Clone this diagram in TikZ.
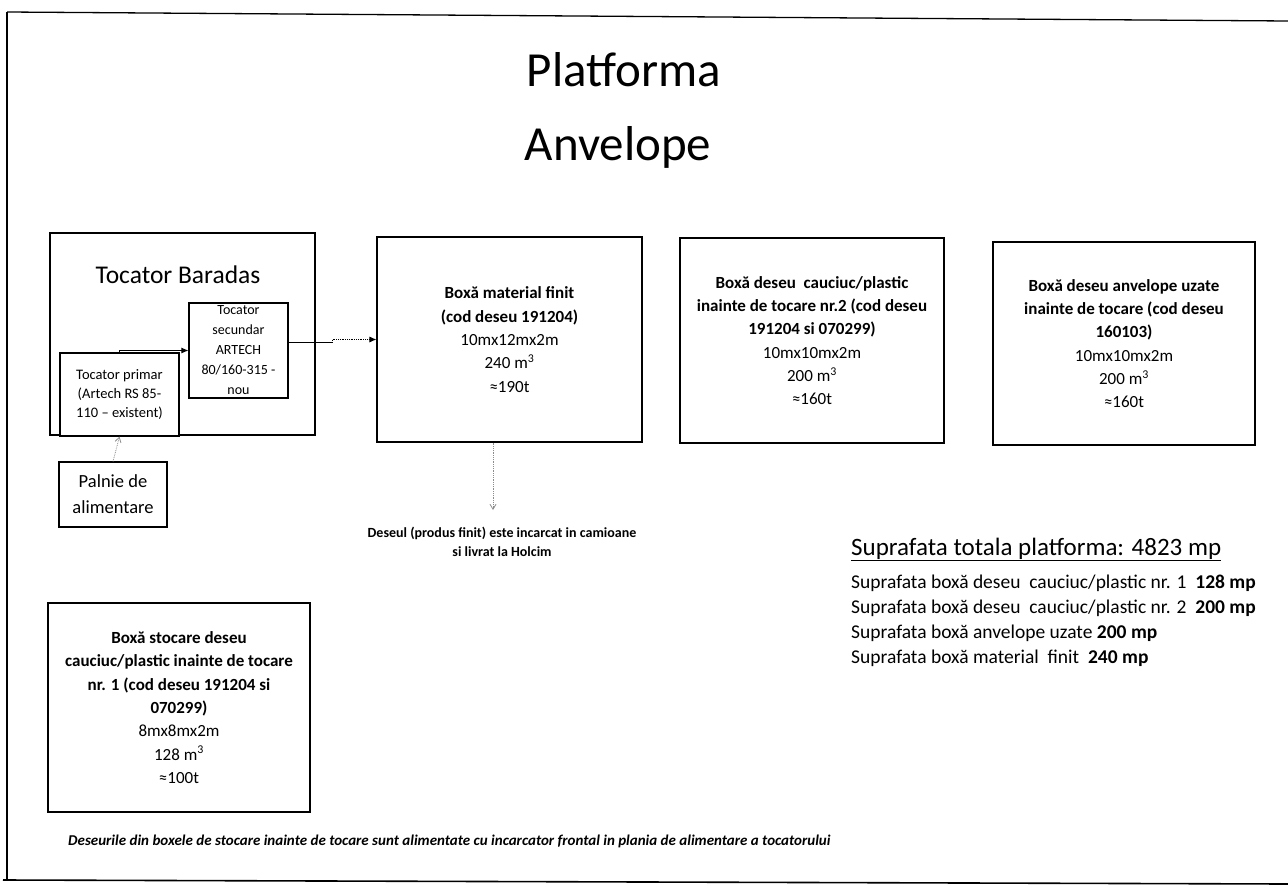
\documentclass[tikz,border=0pt]{standalone}
\usepackage{fontspec}
\setmainfont{Carlito}
\usetikzlibrary{arrows.meta}
\begin{document}
\begin{tikzpicture}[x=1pt,y=-1pt,
  box/.style={draw,line width=1.1pt,inner sep=0pt,align=center},
  boxfont/.style={font=\fontsize{17}{23.3}\selectfont},
  txt/.style={inner sep=0pt},
  suprow/.style={inner sep=0pt,anchor=base west,font=\fontsize{19.5}{22}\selectfont},
  solidarrow/.style={line width=0.9pt,-{Latex[length=7pt,width=6pt]}},
  greyarrow/.style={draw=black!45,line width=0.8pt,densely dotted,-{Straight Barb[length=5pt,width=6pt]}}]
\useasboundingbox (0,0) rectangle (1288,891);
% page frame
\draw[line width=1.3pt] (7,12) -- (1288,21);
\draw[line width=1.3pt] (7,12) -- (7,881);
\draw[line width=1.6pt] (3,880) -- (1288,884);
% title
\node[txt,anchor=base,font=\fontsize{49}{58}\selectfont] (t1) at (624,87) {Platforma};
\node[txt,anchor=base,font=\fontsize{49}{58}\selectfont] (t2) at (618,160) {Anvelope};
% Tocator Baradas
\node[box,minimum width=265pt,minimum height=202pt] (bar) at (182.5,334) {};
\node[txt,font=\fontsize{25.5}{30}\selectfont] (bart) at (178,275) {Tocator Baradas};
\node[box,minimum width=99pt,minimum height=95pt,font=\fontsize{14}{20}\selectfont] (sec) at (238.5,350.5) {Tocator\\secundar\\ARTECH\\80/160-315 -\\nou};
\node[box,fill=white,minimum width=119pt,minimum height=83pt,font=\fontsize{14.5}{19}\selectfont] (prim) at (119.5,394.5) {Tocator primar\\(Artech RS 85-\\110 – existent)};
\node[box,minimum width=108pt,minimum height=65pt,font=\fontsize{18.5}{26}\selectfont] (pal) at (113,494.5) {Palnie de\\alimentare};
% boxes
\node[box,boxfont,minimum width=265pt,minimum height=205pt] (mf) at (509.5,339.5)
  {\textbf{Boxă material finit}\\\textbf{(cod deseu 191204)}\\10mx12mx2m\\240 m\textsuperscript{3}\\≈190t};
\node[box,boxfont,minimum width=264pt,minimum height=205pt] (b2) at (812,340.5)
  {\textbf{Boxă deseu\ \ cauciuc/plastic}\\\textbf{inainte de tocare nr.2 (cod deseu}\\\textbf{191204 si 070299)}\\10mx10mx2m\\200 m\textsuperscript{3}\\≈160t};
\node[box,boxfont,minimum width=262pt,minimum height=203pt] (b3) at (1124,343.5)
  {\textbf{Boxă deseu anvelope uzate}\\\textbf{inainte de tocare (cod deseu}\\\textbf{160103)}\\10mx10mx2m\\200 m\textsuperscript{3}\\≈160t};
\node[box,boxfont,minimum width=262pt,minimum height=209pt] (b1) at (179,707.5)
  {\textbf{Boxă stocare deseu}\\\textbf{cauciuc/plastic inainte de tocare}\\\textbf{nr. 1 (cod deseu 191204 si}\\\textbf{070299)}\\8mx8mx2m\\128 m\textsuperscript{3}\\≈100t};
% connectors
\draw[solidarrow] (prim.north) |- (sec.west);
\coordinate (c1) at (332,342.5);
\draw[line width=0.9pt] ([yshift=8pt]sec.east) -- (c1);
\draw[line width=0.8pt,densely dotted,-{Latex[length=7pt,width=6pt]}] (c1) |- (mf.west);
\draw[greyarrow] (pal.north) -- (prim.south);
\coordinate (dend) at (493,510);
\draw[greyarrow] ([xshift=-16.5pt]mf.south) -- (dend);
% text
\node[txt,align=center,font=\bfseries\fontsize{14}{19}\selectfont] (deseul) at (502,542) {Deseul (produs finit) este incarcat in camioane\\si livrat la Holcim};
\node[txt,anchor=base west,font=\fontsize{25}{30}\selectfont] (suph) at (851,555) {Suprafata totala platforma: 4823 mp};
\draw[line width=0.8pt] ([yshift=-5pt]suph.base west) -- ([yshift=-5pt]suph.base east);
\node[suprow] (s1) at (851,588) {Suprafata boxă deseu\ \ cauciuc/plastic nr. 1\ \ \textbf{128 mp}};
\node[suprow] (s2) at (851,613) {Suprafata boxă deseu\ \ cauciuc/plastic nr. 2\ \ \textbf{200 mp}};
\node[suprow] (s3) at (851,638) {Suprafata boxă anvelope uzate \textbf{200 mp}};
\node[suprow] (s4) at (851,663) {Suprafata boxă material\ \ finit\ \ \textbf{240 mp}};
\node[txt,anchor=base west,font=\bfseries\itshape\fontsize{15}{18}\selectfont] (note) at (68,845) {Deseurile din boxele de stocare inainte de tocare sunt alimentate cu incarcator frontal in plania de alimentare a tocatorului};
\end{tikzpicture}
\end{document}
